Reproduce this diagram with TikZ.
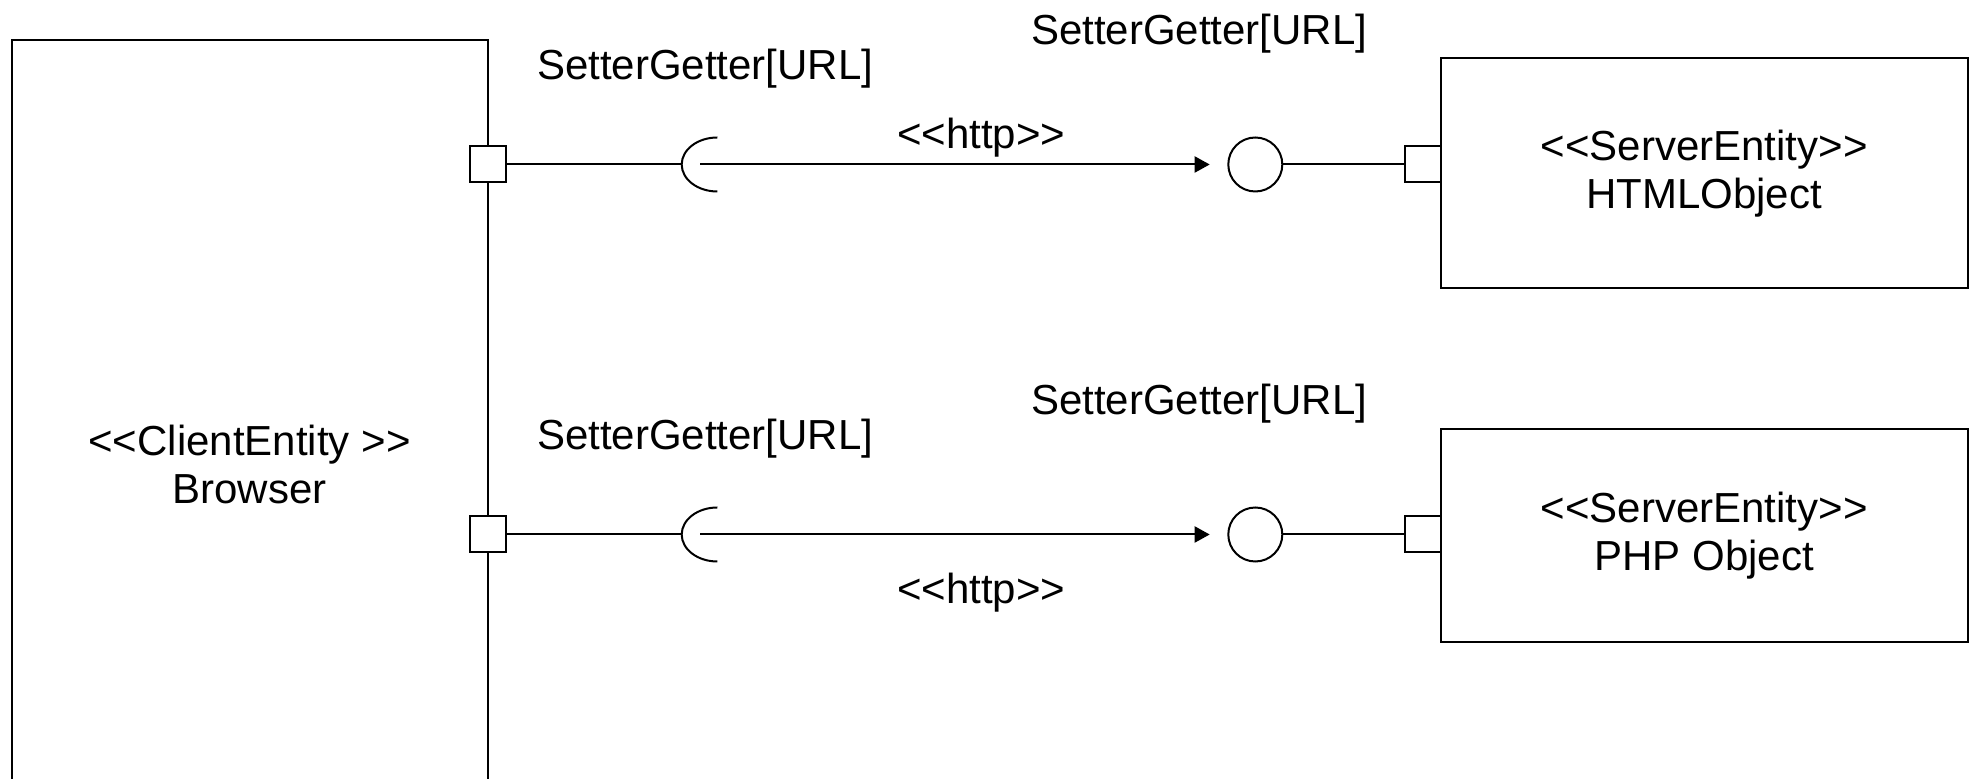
\documentclass[tikz,border=0pt]{standalone}
\usepackage{fontspec}
\setmainfont{Liberation Sans}[Ligatures=TeXOff]
\usetikzlibrary{arrows.meta}
\begin{document}
\begin{tikzpicture}[x=0.5pt,y=-0.5pt,line width=1pt,
  font=\fontsize{21}{24.15}\selectfont,
  box/.style={draw,fill=white,inner sep=0pt,align=center},
  portbox/.style={draw,fill=white,minimum size=18pt,inner sep=0pt},
  provided/.style={draw,circle,fill=white,minimum size=27pt,inner sep=0pt},
  lbl/.style={inner sep=0pt,anchor=base west},
  req/.style={-{Triangle[length=7.5pt,width=8pt]},shorten >=8.8pt},
  socket/.style={x radius=17.8pt,y radius=13.5pt}]
\path[use as bounding box,clip] (0,0) rectangle (1970,779);

% components
\node[box,minimum width=238pt,minimum height=424pt] (browser) at (249.5,464.5) {<<ClientEntity >>\\Browser};
\node[box,minimum width=263.4pt,minimum height=115pt] (html) at (1704.1,173.3) {<<ServerEntity>>\\HTMLObject};
\node[box,minimum width=263.4pt,minimum height=106.2pt] (php) at (1704.1,535.5) {<<ServerEntity>>\\PHP Object};

% ports
\node[portbox] (bp1) at (487.5,164.5) {};
\node[portbox] (bp2) at (487.5,534.5) {};
\node[portbox] (sp1) at (1422.7,164.5) {};
\node[portbox] (sp2) at (1422.7,534.5) {};

% provided interfaces
\node[provided] (pv1) at (1255.3,164.5) {};
\node[provided] (pv2) at (1255.3,534.5) {};

% required interfaces (sockets)
\coordinate (sk1) at (681.7,164.5);
\coordinate (sk2) at (681.7,534.5);
\coordinate (rq1) at (700,164.5);
\coordinate (rq2) at (700,534.5);

\draw (bp1.east) -- (sk1);
\draw (sk1) arc[start angle=180,end angle=90,socket];
\draw (sk1) arc[start angle=180,end angle=270,socket];
\draw[req] (rq1) -- (pv1.west);
\draw (pv1.east) -- (sp1.west);

\draw (bp2.east) -- (sk2);
\draw (sk2) arc[start angle=180,end angle=90,socket];
\draw (sk2) arc[start angle=180,end angle=270,socket];
\draw[req] (rq2) -- (pv2.west);
\draw (pv2.east) -- (sp2.west);

% labels
\node[lbl] (l1) at (536,80) {SetterGetter[URL]};
\node[lbl] (l2) at (1030,45) {SetterGetter[URL]};
\node[lbl] (l3) at (536,450) {SetterGetter[URL]};
\node[lbl] (l4) at (1030,415) {SetterGetter[URL]};
\node[lbl] (h1) at (896,148.5) {<<http>>};
\node[lbl] (h2) at (896,603.5) {<<http>>};
\end{tikzpicture}
\end{document}
